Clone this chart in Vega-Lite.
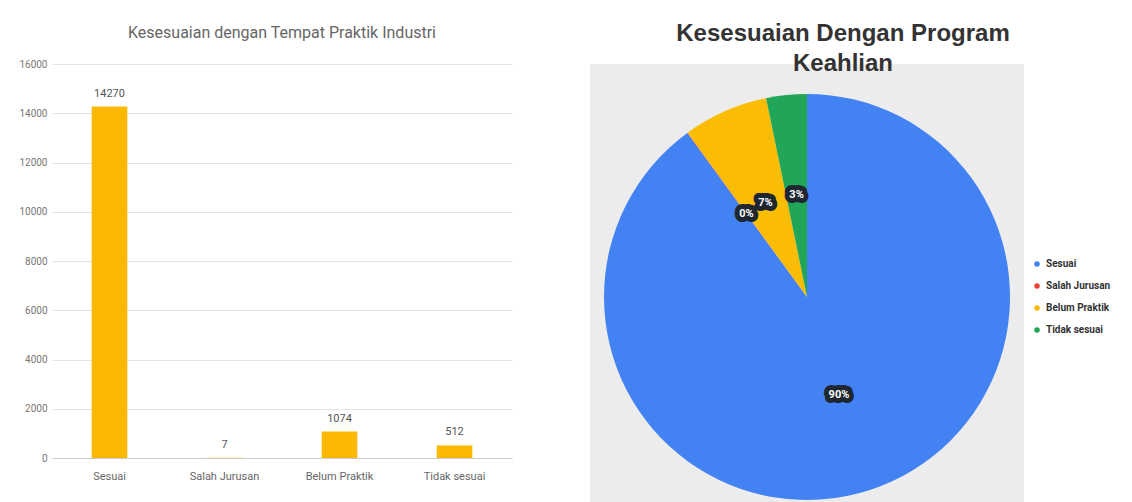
{
  "$schema": "https://vega.github.io/schema/vega-lite/v6.json",
  "padding": {"left": 5, "top": 22, "right": 0, "bottom": 0},
  "background": "white",
  "datasets": {
    "d": [
      {"kategori": "Sesuai", "jumlah": 14270, "persen": "90%", "ord": 1},
      {"kategori": "Salah Jurusan", "jumlah": 7, "persen": "0%", "ord": 2},
      {"kategori": "Belum Praktik", "jumlah": 1074, "persen": "7%", "ord": 3},
      {"kategori": "Tidak sesuai", "jumlah": 512, "persen": "3%", "ord": 4}
    ]
  },
  "spacing": 78,
  "hconcat": [
    {
      "width": 460,
      "height": 394,
      "data": {"name": "d"},
      "title": {"text": "Kesesuaian dengan Tempat Praktik Industri", "font": "Roboto", "fontSize": 16, "fontWeight": "normal", "color": "#666666", "offset": 18, "anchor": "middle"},
      "encoding": {
        "x": {"field": "kategori", "type": "nominal", "sort": null,
          "scale": {"paddingInner": 0.69, "paddingOuter": 0.345},
          "axis": {"title": null, "labelAngle": 0, "labelFont": "Roboto", "labelFontSize": 11, "labelColor": "#666666", "ticks": false, "domainColor": "#cccccc", "labelPadding": 12}},
        "y": {"field": "jumlah", "type": "quantitative",
          "scale": {"domain": [0, 16000]},
          "axis": {"title": null, "values": [0, 2000, 4000, 6000, 8000, 10000, 12000, 14000, 16000], "format": "d", "labelFont": "Roboto", "labelFontSize": 10, "labelColor": "#777777", "ticks": false, "domain": false, "gridColor": "#e3e3e3", "labelPadding": 5, "minExtent": 47, "maxExtent": 47}}
      },
      "layer": [
        {"mark": {"type": "bar", "color": "#FBB800"}},
        {"mark": {"type": "text", "baseline": "middle", "dy": -13, "font": "Roboto", "fontSize": 11, "color": "#555555"},
          "encoding": {"text": {"field": "jumlah", "type": "quantitative", "format": "d"}}}
      ]
    },
    {
      "width": 434,
      "height": 466,
      "view": {"fill": "#ececec", "stroke": null},
      "data": {"name": "d"},
      "title": {"text": ["Kesesuaian Dengan Program", "Keahlian"], "font": "Liberation Sans", "fontSize": 24, "fontWeight": "bold", "color": "#333333", "lineHeight": 30, "dx": 36, "offset": -12, "anchor": "middle"},
      "encoding": {
        "theta": {"field": "jumlah", "type": "quantitative", "stack": true},
        "order": {"field": "ord", "type": "quantitative"}
      },
      "layer": [
        {"mark": {"type": "arc", "outerRadius": 203},
          "encoding": {"color": {"field": "kategori", "type": "nominal",
            "scale": {"domain": ["Sesuai", "Salah Jurusan", "Belum Praktik", "Tidak sesuai"], "range": ["#4382F3", "#EA4335", "#FBBC04", "#21A659"]},
            "legend": {"orient": "none", "legendX": 980, "legendY": 195, "title": null, "labelFont": "Roboto", "labelFontSize": 10, "labelFontWeight": "bold", "labelColor": "#333333", "symbolType": "circle", "symbolSize": 30, "rowPadding": 12, "labelLimit": 90}}}},
        {"mark": {"type": "text", "radius": 103, "font": "Roboto", "fontSize": 11, "fontWeight": "bold", "stroke": "#1e2630", "strokeWidth": 10, "strokeJoin": "round"},
          "encoding": {"text": {"field": "persen"}, "color": {"value": "#1e2630"}}},
        {"mark": {"type": "text", "radius": 103, "font": "Roboto", "fontSize": 11, "fontWeight": "bold"},
          "encoding": {"text": {"field": "persen"}, "color": {"value": "#ffffff"}}}
      ]
    }
  ],
  "config": {"view": {"stroke": null}}
}
